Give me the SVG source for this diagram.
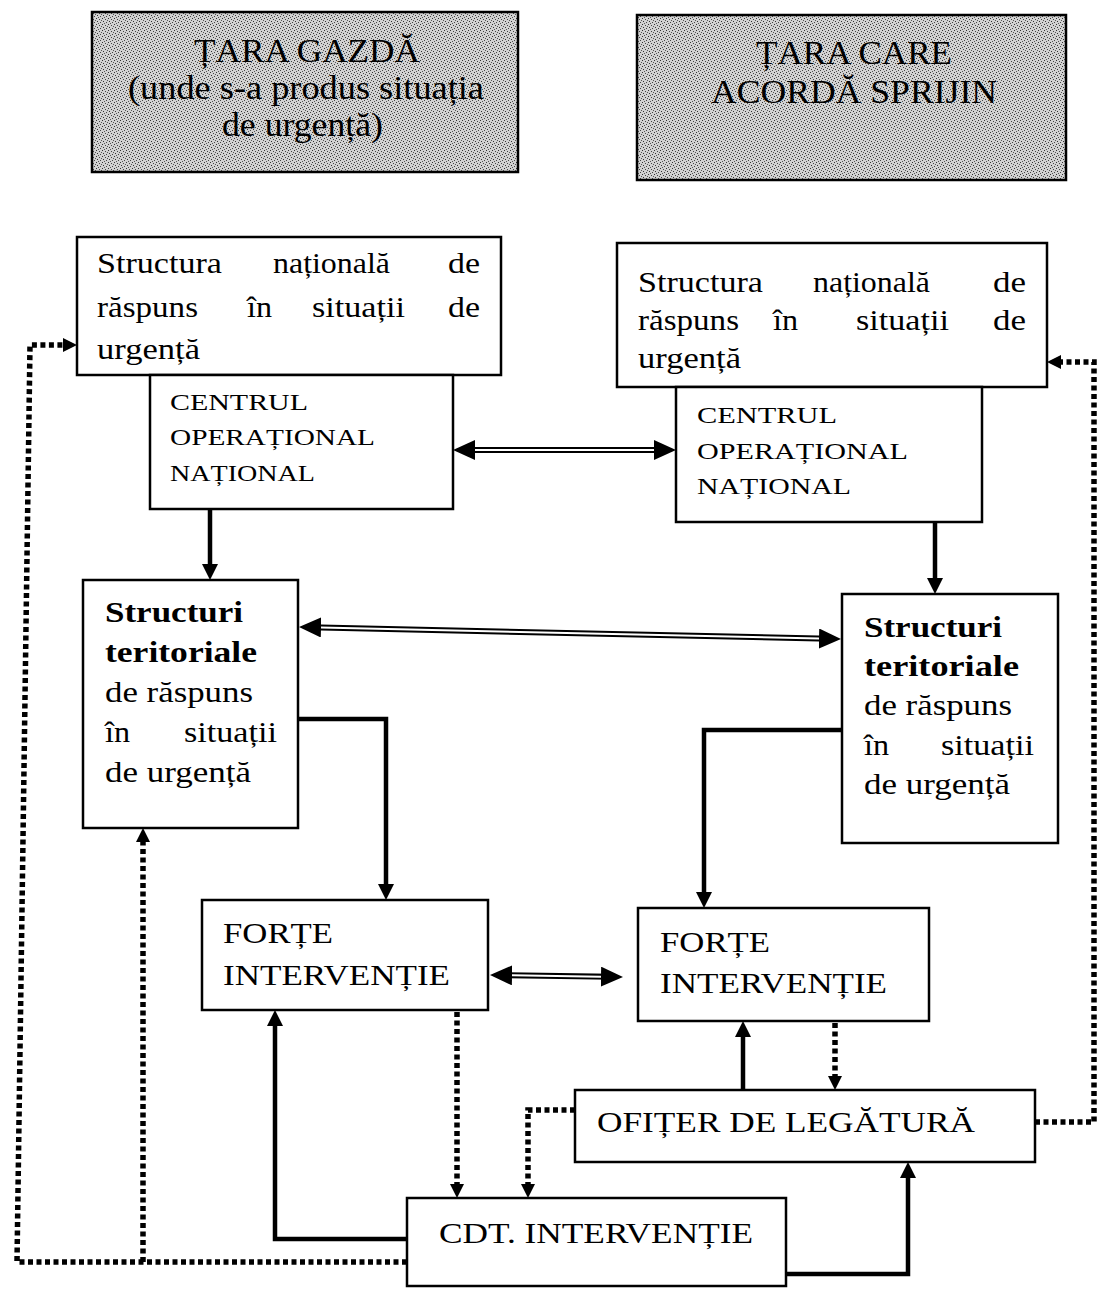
<svg xmlns="http://www.w3.org/2000/svg" width="1102" height="1293" viewBox="0 0 1102 1293">
<style>
.box{fill:#fff;stroke:#000;stroke-width:2.5}
.hdr{stroke:#000;stroke-width:2.5}
.t{font-family:"Liberation Serif","Times New Roman",serif;font-size:29px;fill:#000}
.b{font-weight:bold}
.c{font-family:"Liberation Serif","Times New Roman",serif;font-size:24px;fill:#000}
.h{font-family:"Liberation Serif","Times New Roman",serif;font-size:33px;fill:#000}
.sol{fill:none;stroke:#000;stroke-width:4.5;marker-end:url(#ah)}
.dot{fill:none;stroke:#000;stroke-width:5.5;stroke-dasharray:5 3.5;marker-end:url(#ahd)}
.dblk{fill:none;stroke:#000;stroke-width:6;marker-start:url(#ahb);marker-end:url(#ahb)}
.dwht{fill:none;stroke:#fff;stroke-width:2}
</style>
<defs>
<pattern id="stip" width="6" height="6" patternUnits="userSpaceOnUse">
<rect width="6" height="6" fill="#d2d2d2"/>
<rect x="0" y="0" width="1" height="1" fill="#333"/>
<rect x="3" y="1" width="1" height="1" fill="#444"/>
<rect x="1" y="3" width="1" height="1" fill="#333"/>
<rect x="4" y="4" width="1" height="1" fill="#444"/>
<rect x="5" y="2" width="1" height="1" fill="#555"/>
<rect x="2" y="5" width="1" height="1" fill="#555"/>
</pattern>
<marker id="ah" markerUnits="userSpaceOnUse" viewBox="0 0 16 16" markerWidth="16" markerHeight="16" refX="8" refY="8" orient="auto"><path d="M0,0 L16,8 L0,16 Z" fill="#000"/></marker>
<marker id="ahd" markerUnits="userSpaceOnUse" viewBox="0 0 14 14" markerWidth="14" markerHeight="14" refX="7" refY="7" orient="auto"><path d="M0,0 L14,7 L0,14 Z" fill="#000"/></marker>
<marker id="ahb" markerUnits="userSpaceOnUse" viewBox="0 0 22 20" markerWidth="22" markerHeight="20" refX="11" refY="10" orient="auto-start-reverse"><path d="M0,0 L22,10 L0,20 Z" fill="#000"/></marker>
</defs>
<rect width="1102" height="1293" fill="#fff"/>

<g id="hdr-gazda">
<rect class="hdr" x="92" y="12" width="426" height="160" fill="url(#stip)"/>
<text class="h" x="194" y="62" textLength="226" lengthAdjust="spacingAndGlyphs">ȚARA GAZDĂ</text>
<text class="h" x="128" y="99" textLength="356" lengthAdjust="spacingAndGlyphs">(unde s-a produs situația</text>
<text class="h" x="222" y="136" textLength="161" lengthAdjust="spacingAndGlyphs">de urgență)</text>
</g>
<g id="hdr-sprijin">
<rect class="hdr" x="637" y="15" width="429" height="165" fill="url(#stip)"/>
<text class="h" x="756" y="64" textLength="196" lengthAdjust="spacingAndGlyphs">ȚARA CARE</text>
<text class="h" x="711" y="103" textLength="286" lengthAdjust="spacingAndGlyphs">ACORDĂ SPRIJIN</text>
</g>

<g id="struct-nat-L">
<rect class="box" x="77" y="237" width="424" height="138"/>
<text class="t" x="97" y="273" textLength="125" lengthAdjust="spacingAndGlyphs">Structura</text>
<text class="t" x="273" y="273" textLength="117" lengthAdjust="spacingAndGlyphs">națională</text>
<text class="t" x="448" y="273" textLength="32" lengthAdjust="spacingAndGlyphs">de</text>
<text class="t" x="97" y="317" textLength="101" lengthAdjust="spacingAndGlyphs">răspuns</text>
<text class="t" x="247" y="317" textLength="25" lengthAdjust="spacingAndGlyphs">în</text>
<text class="t" x="312" y="317" textLength="93" lengthAdjust="spacingAndGlyphs">situații</text>
<text class="t" x="448" y="317" textLength="32" lengthAdjust="spacingAndGlyphs">de</text>
<text class="t" x="97" y="359" textLength="103" lengthAdjust="spacingAndGlyphs">urgență</text>
</g>
<g id="centrul-L">
<rect class="box" x="150" y="375" width="303" height="134"/>
<text class="c" x="170" y="410" textLength="138" lengthAdjust="spacingAndGlyphs">CENTRUL</text>
<text class="c" x="170" y="445" textLength="205" lengthAdjust="spacingAndGlyphs">OPERAȚIONAL</text>
<text class="c" x="170" y="481" textLength="145" lengthAdjust="spacingAndGlyphs">NAȚIONAL</text>
</g>

<g id="struct-nat-R">
<rect class="box" x="617" y="243" width="430" height="144"/>
<text class="t" x="638" y="292" textLength="125" lengthAdjust="spacingAndGlyphs">Structura</text>
<text class="t" x="813" y="292" textLength="117" lengthAdjust="spacingAndGlyphs">națională</text>
<text class="t" x="993" y="292" textLength="33" lengthAdjust="spacingAndGlyphs">de</text>
<text class="t" x="638" y="330" textLength="101" lengthAdjust="spacingAndGlyphs">răspuns</text>
<text class="t" x="773" y="330" textLength="25" lengthAdjust="spacingAndGlyphs">în</text>
<text class="t" x="856" y="330" textLength="93" lengthAdjust="spacingAndGlyphs">situații</text>
<text class="t" x="993" y="330" textLength="33" lengthAdjust="spacingAndGlyphs">de</text>
<text class="t" x="638" y="368" textLength="103" lengthAdjust="spacingAndGlyphs">urgență</text>
</g>
<g id="centrul-R">
<rect class="box" x="676" y="387" width="306" height="135"/>
<text class="c" x="697" y="423" textLength="140" lengthAdjust="spacingAndGlyphs">CENTRUL</text>
<text class="c" x="697" y="459" textLength="211" lengthAdjust="spacingAndGlyphs">OPERAȚIONAL</text>
<text class="c" x="697" y="494" textLength="154" lengthAdjust="spacingAndGlyphs">NAȚIONAL</text>
</g>

<g id="structuri-L">
<rect class="box" x="83" y="580" width="215" height="248"/>
<text class="t b" x="105" y="622" textLength="138" lengthAdjust="spacingAndGlyphs">Structuri</text>
<text class="t b" x="105" y="662" textLength="152" lengthAdjust="spacingAndGlyphs">teritoriale</text>
<text class="t" x="105" y="702" textLength="148" lengthAdjust="spacingAndGlyphs">de răspuns</text>
<text class="t" x="105" y="742" textLength="25" lengthAdjust="spacingAndGlyphs">în</text>
<text class="t" x="184" y="742" textLength="93" lengthAdjust="spacingAndGlyphs">situații</text>
<text class="t" x="105" y="782" textLength="146" lengthAdjust="spacingAndGlyphs">de urgență</text>
</g>
<g id="structuri-R">
<rect class="box" x="842" y="594" width="216" height="249"/>
<text class="t b" x="864" y="637" textLength="138" lengthAdjust="spacingAndGlyphs">Structuri</text>
<text class="t b" x="864" y="676" textLength="155" lengthAdjust="spacingAndGlyphs">teritoriale</text>
<text class="t" x="864" y="715" textLength="148" lengthAdjust="spacingAndGlyphs">de răspuns</text>
<text class="t" x="864" y="755" textLength="25" lengthAdjust="spacingAndGlyphs">în</text>
<text class="t" x="941" y="755" textLength="93" lengthAdjust="spacingAndGlyphs">situații</text>
<text class="t" x="864" y="794" textLength="146" lengthAdjust="spacingAndGlyphs">de urgență</text>
</g>

<g id="forte-L">
<rect class="box" x="202" y="900" width="286" height="110"/>
<text class="t" x="223" y="943" textLength="110" lengthAdjust="spacingAndGlyphs">FORȚE</text>
<text class="t" x="223" y="985" textLength="227" lengthAdjust="spacingAndGlyphs">INTERVENȚIE</text>
</g>
<g id="forte-R">
<rect class="box" x="638" y="908" width="291" height="113"/>
<text class="t" x="660" y="952" textLength="110" lengthAdjust="spacingAndGlyphs">FORȚE</text>
<text class="t" x="660" y="993" textLength="227" lengthAdjust="spacingAndGlyphs">INTERVENȚIE</text>
</g>
<g id="ofiter">
<rect class="box" x="575" y="1090" width="460" height="72"/>
<text class="t" x="597" y="1132" textLength="378" lengthAdjust="spacingAndGlyphs">OFIȚER DE LEGĂTURĂ</text>
</g>
<g id="cdt">
<rect class="box" x="407" y="1198" width="379" height="88"/>
<text class="t" x="439" y="1243" textLength="314" lengthAdjust="spacingAndGlyphs">CDT. INTERVENȚIE</text>
</g>

<g id="connectors">
<path class="dblk" d="M464,450 H665"/>
<path class="dwht" d="M475,450 H654"/>
<path class="dblk" d="M310,627.24 L830,638.76"/>
<path class="dwht" d="M321,627.49 L819,638.51"/>
<path class="dblk" d="M501,975.17 L612,976.83"/>
<path class="dwht" d="M512,975.33 L601,976.67"/>
<path class="sol" d="M210,509 V572"/>
<path class="sol" d="M935,522 V586"/>
<path class="sol" d="M298,719 H386 V892"/>
<path class="sol" d="M842,730 H704 V900"/>
<path class="sol" d="M407,1239 H275 V1018"/>
<path class="sol" d="M786,1274 H908 V1170"/>
<path class="sol" d="M743,1090 V1029"/>
<path class="dot" d="M457,1012 V1191"/>
<path class="dot" d="M835,1023 V1083"/>
<path class="dot" d="M575,1110 H528 V1191"/>
<path class="dot" d="M407,1262 H17 L30,345 H70"/>
<path class="dot" d="M143,1262 V835"/>
<path class="dot" d="M1035,1122 H1094 V362 H1054"/>
</g>
</svg>
